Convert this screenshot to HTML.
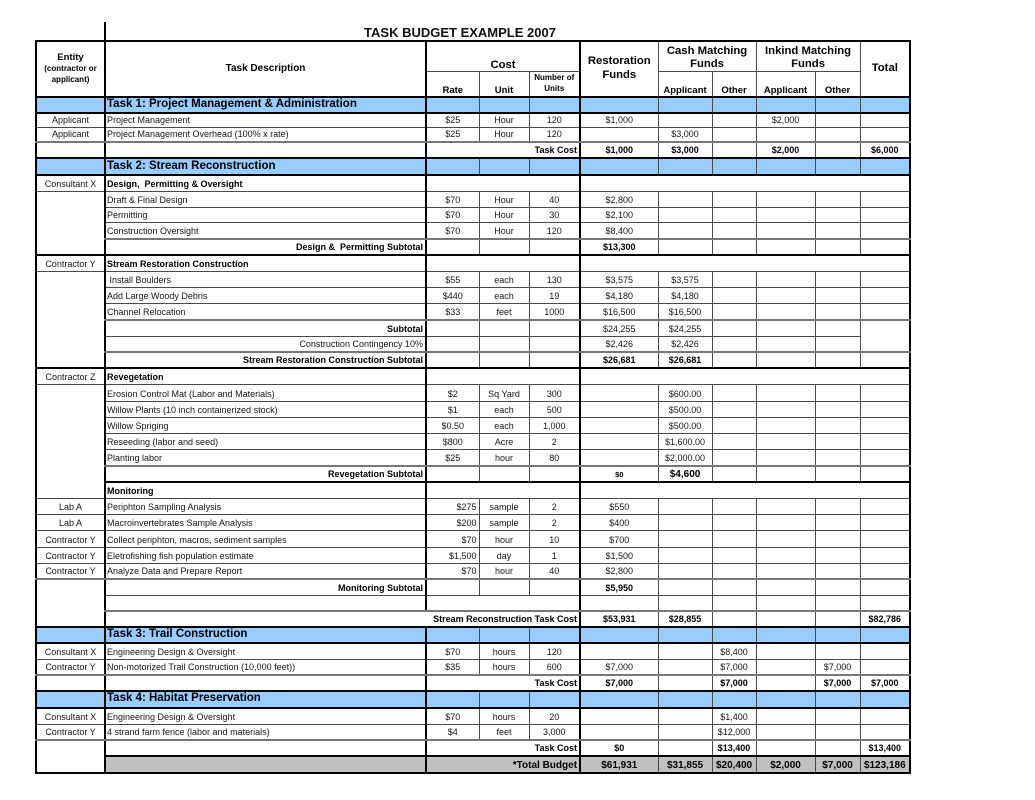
<!DOCTYPE html>
<html><head><meta charset="utf-8">
<style>
body{margin:0;background:#fff;width:1035px;height:800px;position:relative;overflow:hidden;font-family:"Liberation Sans",Arial,sans-serif;color:#111}
.title{position:absolute;left:310px;top:26px;width:300px;text-align:center;font-size:13px;line-height:14px;font-weight:bold}
.vl{position:absolute;left:104px;top:22px;width:2px;height:19px;background:#000}
table{position:absolute;left:35px;top:40px;border-collapse:collapse;table-layout:fixed;width:876px;border:2px solid #000}
td{border:1px solid #4a4a4a;padding:0 2px 1px;font-size:9px;line-height:11px;vertical-align:bottom;text-align:center;white-space:nowrap;overflow:hidden;color:#151515}
col.k{border-right:2px solid #000}
tr.tk>td{border-top:2px solid #000}
tr.db>td{border-top:2px solid #777}
tr.bl>td{background:#99ccff}
td.th{font-size:11.5px;font-weight:bold;vertical-align:middle;line-height:13px;color:#000}
.l{text-align:left;padding-left:1px}
.r{text-align:right;padding-right:2px}
.b{font-weight:bold;color:#000}
.g{background:#c0c0c0}
.tot{font-size:10px;font-weight:bold;color:#000}
.hb{font-weight:bold;color:#000}
.h11{font-size:11.3px;line-height:14px;vertical-align:middle}
.h13{font-size:11.3px;line-height:13px;vertical-align:bottom;padding-bottom:0}
.sub{font-size:9.5px;padding-bottom:0;line-height:11px}
</style></head><body>
<div class="title">TASK BUDGET EXAMPLE 2007</div>
<div class="vl"></div>
<table>
<colgroup>
<col class="k" style="width:69px">
<col class="k" style="width:321px">
<col style="width:53px">
<col style="width:50px">
<col class="k" style="width:51px">
<col style="width:78px">
<col style="width:54px">
<col style="width:44px">
<col style="width:59px">
<col style="width:45px">
<col style="width:50px">
</colgroup>
<tr style="height:30px">
<td rowspan="2" class="hb" style="vertical-align:middle;font-size:9.5px;line-height:11px">Entity<br><span style="font-size:8px;line-height:10px">(contractor or<br>applicant)</span></td>
<td rowspan="2" class="hb" style="vertical-align:middle;font-size:10px">Task Description</td>
<td colspan="3" class="hb" style="font-size:11.3px;line-height:11px;padding-bottom:0">Cost</td>
<td rowspan="2" class="hb h11">Restoration<br>Funds</td>
<td colspan="2" class="hb h13">Cash Matching<br>Funds</td>
<td colspan="2" class="hb h13">Inkind Matching<br>Funds</td>
<td rowspan="2" class="hb h11">Total</td>
</tr>
<tr style="height:25.3px">
<td class="hb sub">Rate</td>
<td class="hb sub">Unit</td>
<td class="hb" style="font-size:8px;line-height:11px;padding-bottom:2px">Number of<br>Units</td>
<td class="hb sub">Applicant</td>
<td class="hb sub">Other</td>
<td class="hb sub">Applicant</td>
<td class="hb sub">Other</td>
</tr>
<tr class="tk bl" style="height:16.7px"><td></td><td class="l th">Task 1: Project Management &amp; Administration</td><td></td><td></td><td></td><td></td><td></td><td></td><td></td><td></td><td></td></tr>
<tr class="tk" style="height:14.6px"><td>Applicant</td><td class="l">Project Management</td><td>$25</td><td>Hour</td><td>120</td><td>$1,000</td><td></td><td></td><td>$2,000</td><td></td><td></td></tr>
<tr style="height:14.4px"><td>Applicant</td><td class="l">Project Management Overhead (100% x rate)</td><td>$25</td><td>Hour</td><td>120</td><td></td><td>$3,000</td><td></td><td></td><td></td><td></td></tr>
<tr class="db" style="height:16px"><td></td><td></td><td colspan="3" class="r b">Task Cost</td><td class="b">$1,000</td><td class="b">$3,000</td><td></td><td class="b">$2,000</td><td></td><td class="b">$6,000</td></tr>
<tr class="tk bl" style="height:17px"><td></td><td class="l th">Task 2: Stream Reconstruction</td><td></td><td></td><td></td><td></td><td></td><td></td><td></td><td></td><td></td></tr>
<tr class="tk" style="height:16px"><td>Consultant X</td><td class="l b">Design,&nbsp; Permitting &amp; Oversight</td><td colspan="3"></td><td colspan="6"></td></tr>
<tr style="height:16px"><td rowspan="4"></td><td class="l">Draft &amp; Final Design</td><td>$70</td><td>Hour</td><td>40</td><td>$2,800</td><td></td><td></td><td></td><td></td><td></td></tr>
<tr style="height:15.8px"><td class="l">Permitting</td><td>$70</td><td>Hour</td><td>30</td><td>$2,100</td><td></td><td></td><td></td><td></td><td></td></tr>
<tr style="height:15.8px"><td class="l">Construction Oversight</td><td>$70</td><td>Hour</td><td>120</td><td>$8,400</td><td></td><td></td><td></td><td></td><td></td></tr>
<tr class="db" style="height:16.7px"><td class="r b">Design &amp;&nbsp; Permitting Subtotal</td><td></td><td></td><td></td><td class="b">$13,300</td><td></td><td></td><td></td><td></td><td></td></tr>
<tr class="tk" style="height:16px"><td>Contractor Y</td><td class="l b">Stream Restoration Construction</td><td colspan="3"></td><td colspan="6"></td></tr>
<tr style="height:16.3px"><td rowspan="6"></td><td class="l">&nbsp;Install Boulders</td><td>$55</td><td>each</td><td>130</td><td>$3,575</td><td>$3,575</td><td></td><td></td><td></td><td></td></tr>
<tr style="height:16px"><td class="l">Add Large Woody Debris</td><td>$440</td><td>each</td><td>19</td><td>$4,180</td><td>$4,180</td><td></td><td></td><td></td><td></td></tr>
<tr style="height:16px"><td class="l">Channel Relocation</td><td>$33</td><td>feet</td><td>1000</td><td>$16,500</td><td>$16,500</td><td></td><td></td><td></td><td></td></tr>
<tr class="db" style="height:16.4px"><td class="r b">Subtotal</td><td></td><td></td><td></td><td>$24,255</td><td>$24,255</td><td></td><td></td><td></td><td rowspan="2"></td></tr>
<tr style="height:16px"><td class="r">Construction Contingency 10%</td><td></td><td></td><td></td><td>$2,426</td><td>$2,426</td><td></td><td></td><td></td></tr>
<tr class="db" style="height:15.8px"><td class="r b">Stream Restoration Construction Subtotal</td><td></td><td></td><td></td><td class="b">$26,681</td><td class="b">$26,681</td><td></td><td></td><td></td><td></td></tr>
<tr class="tk" style="height:16.5px"><td>Contractor Z</td><td class="l b">Revegetation</td><td colspan="3"></td><td colspan="6"></td></tr>
<tr style="height:16.7px"><td rowspan="7"></td><td class="l">Erosion Control Mat (Labor and Materials)</td><td>$2</td><td>Sq Yard</td><td>300</td><td></td><td>$600.00</td><td></td><td></td><td></td><td></td></tr>
<tr style="height:16.6px"><td class="l">Willow Plants (10 inch containerized stock)</td><td>$1</td><td>each</td><td>500</td><td></td><td>$500.00</td><td></td><td></td><td></td><td></td></tr>
<tr style="height:16px"><td class="l">Willow Spriging</td><td>$0.50</td><td>each</td><td>1,000</td><td></td><td>$500.00</td><td></td><td></td><td></td><td></td></tr>
<tr style="height:16px"><td class="l">Reseeding (labor and seed)</td><td>$800</td><td>Acre</td><td>2</td><td></td><td>$1,600.00</td><td></td><td></td><td></td><td></td></tr>
<tr style="height:16.7px"><td class="l">Planting labor</td><td>$25</td><td>hour</td><td>80</td><td></td><td>$2,000.00</td><td></td><td></td><td></td><td></td></tr>
<tr class="db" style="height:15.7px"><td class="r b">Revegetation Subtotal</td><td></td><td></td><td></td><td class="b" style="font-size:7.5px">$0</td><td class="b" style="font-size:10px">$4,600</td><td></td><td></td><td></td><td></td></tr>
<tr class="tk" style="height:16px"><td class="l b">Monitoring</td><td colspan="3"></td><td colspan="6"></td></tr>
<tr style="height:16.3px"><td>Lab A</td><td class="l">Periphton Sampling Analysis</td><td class="r">$275</td><td>sample</td><td>2</td><td>$550</td><td></td><td></td><td></td><td></td><td></td></tr>
<tr style="height:16px"><td>Lab A</td><td class="l">Macroinvertebrates Sample Analysis</td><td class="r">$200</td><td>sample</td><td>2</td><td>$400</td><td></td><td></td><td></td><td></td><td></td></tr>
<tr style="height:16.7px"><td>Contractor Y</td><td class="l">Collect periphton, macros, sediment samples</td><td class="r">$70</td><td>hour</td><td>10</td><td>$700</td><td></td><td></td><td></td><td></td><td></td></tr>
<tr style="height:16px"><td>Contractor Y</td><td class="l">Eletrofishing fish population estimate</td><td class="r">$1,500</td><td>day</td><td>1</td><td>$1,500</td><td></td><td></td><td></td><td></td><td></td></tr>
<tr style="height:16px"><td>Contractor Y</td><td class="l">Analyze Data and Prepare Report</td><td class="r">$70</td><td>hour</td><td>40</td><td>$2,800</td><td></td><td></td><td></td><td></td><td></td></tr>
<tr class="db" style="height:16.3px"><td rowspan="3"></td><td class="r b">Monitoring Subtotal</td><td></td><td></td><td></td><td class="b">$5,950</td><td></td><td></td><td></td><td></td><td></td></tr>
<tr style="height:15.7px"><td></td><td colspan="3"></td><td></td><td></td><td></td><td></td><td></td><td></td></tr>
<tr class="db" style="height:16px"><td colspan="4" class="r b">Stream Reconstruction Task Cost</td><td class="b">$53,931</td><td class="b">$28,855</td><td></td><td></td><td></td><td class="b">$82,786</td></tr>
<tr class="tk bl" style="height:16px"><td></td><td class="l th">Task 3: Trail Construction</td><td></td><td></td><td></td><td></td><td></td><td></td><td></td><td></td><td></td></tr>
<tr class="tk" style="height:16.6px"><td>Consultant X</td><td class="l">Engineering Design &amp; Oversight</td><td>$70</td><td>hours</td><td>120</td><td></td><td></td><td>$8,400</td><td></td><td></td><td></td></tr>
<tr style="height:15.7px"><td>Contractor Y</td><td class="l">Non-motorized Trail Construction (10,000 feet))</td><td>$35</td><td>hours</td><td>600</td><td>$7,000</td><td></td><td>$7,000</td><td></td><td>$7,000</td><td></td></tr>
<tr class="db" style="height:15.7px"><td></td><td></td><td colspan="3" class="r b">Task Cost</td><td class="b">$7,000</td><td></td><td class="b">$7,000</td><td></td><td class="b">$7,000</td><td class="b">$7,000</td></tr>
<tr class="tk bl" style="height:16.6px"><td></td><td class="l th">Task 4: Habitat Preservation</td><td></td><td></td><td></td><td></td><td></td><td></td><td></td><td></td><td></td></tr>
<tr class="tk" style="height:16.7px"><td>Consultant X</td><td class="l">Engineering Design &amp; Oversight</td><td>$70</td><td>hours</td><td>20</td><td></td><td></td><td>$1,400</td><td></td><td></td><td></td></tr>
<tr style="height:15.3px"><td>Contractor Y</td><td class="l">4 strand farm fence (labor and materials)</td><td>$4</td><td>feet</td><td>3,000</td><td></td><td></td><td>$12,000</td><td></td><td></td><td></td></tr>
<tr class="db" style="height:16.4px"><td rowspan="2"></td><td></td><td colspan="3" class="r b">Task Cost</td><td class="b">$0</td><td></td><td class="b">$13,400</td><td></td><td></td><td class="b">$13,400</td></tr>
<tr class="tk" style="height:16.6px"><td class="g"></td><td colspan="3" class="g r tot">*Total Budget</td><td class="g tot">$61,931</td><td class="g tot">$31,855</td><td class="g tot">$20,400</td><td class="g tot">$2,000</td><td class="g tot">$7,000</td><td class="g tot">$123,186</td></tr>
</table>
</body></html>
